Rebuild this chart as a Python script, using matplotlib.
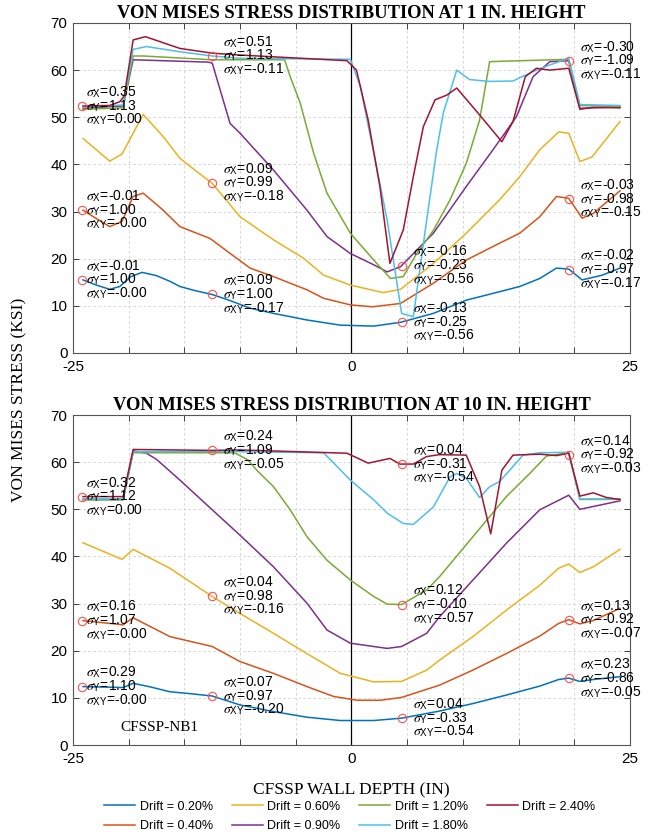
import matplotlib
matplotlib.use("Agg")
import matplotlib.pyplot as plt
import numpy as np

plt.rcParams['font.family'] = ['Liberation Sans', 'DejaVu Sans']
plt.rcParams['mathtext.fontset'] = 'stix'

# drift levels and MATLAB-style line colours
drifts = ['0.20', '0.40', '0.60', '0.90', '1.20', '1.80', '2.40']
colors = ['#0072BD', '#D95319', '#EDB120', '#7E2F8E', '#77AC30', '#4DBEEE', '#A2142F']

# ---- von Mises stress at 1 in. height (ksi) vs wall depth (in) ----
t020_x = [-24.1, -22.9, -21.7, -20.8, -19.8, -18.8, -17.5, -16.3, -15.4, -14.0, -12.5, -11.0, -9.1, -7.0, -4.0,
          -1.0, 2.0, 4.4, 7.35, 10.3, 13.3, 15.1, 16.9, 18.4, 19.5, 20.7, 22.5, 24.1]
t020_y = [15.5, 14.4, 13.5, 14.1, 16.2, 17.1, 16.4, 15.2, 14.1, 13.2, 12.4, 11.2, 9.5, 8.4, 7.0,
          5.9, 5.7, 6.5, 8.4, 11.2, 13.0, 14.1, 15.8, 18.0, 17.8, 15.5, 16.5, 18.0]
t040_x = [-24.1, -22.9, -21.7, -20.6, -19.6, -18.7, -17.0, -15.4, -14.0, -12.7, -11.0, -9.1, -7.0, -4.0, -2.5,
          -0.1, 1.9, 4.4, 7.35, 10.3, 13.3, 15.1, 16.9, 18.4, 19.5, 20.7, 21.7, 24.1]
t040_y = [30.3, 28.5, 26.8, 27.9, 33.2, 33.9, 30.5, 26.8, 25.5, 24.3, 21.3, 18.0, 16.2, 13.4, 11.6,
          10.2, 9.8, 10.5, 14.8, 19.7, 23.3, 25.4, 28.9, 33.2, 32.8, 28.6, 29.6, 34.4]
t060_x = [-24.1, -21.7, -20.6, -18.7, -16.9, -15.4, -13.9, -12.5, -10.0, -7.0, -4.3, -2.5, -0.1, 2.85, 4.4,
          7.35, 10.3, 13.3, 15.1, 16.9, 18.6, 19.5, 20.5, 21.6, 24.1]
t060_y = [45.5, 40.7, 42.2, 50.6, 45.9, 41.3, 38.5, 36.0, 28.9, 24.0, 20.1, 16.5, 14.4, 12.8, 13.5,
          19.0, 25.4, 32.5, 37.4, 43.1, 46.9, 46.6, 40.6, 41.6, 49.1]
t090_x = [-24.1, -20.5, -19.6, -12.9, -12.5, -10.9, -10.0, -7.0, -4.0, -2.2, -0.1, 2.0, 3.2, 4.4,
          7.35, 10.3, 12.7, 14.8, 16.3, 17.8, 19.5, 20.5, 24.1]
t090_y = [51.9, 52.4, 62.2, 61.7, 61.5, 48.7, 46.6, 38.8, 30.3, 24.7, 21.1, 18.7, 17.2, 18.3,
          25.4, 35.3, 43.1, 50.1, 58.6, 61.8, 62.0, 51.9, 52.2]
t120_x = [-24.1, -20.5, -19.6, -18.7, -12.5, -6.0, -5.5, -4.6, -3.4, -2.2, -0.1, 2.0, 3.5, 4.65, 5.85,
          7.35, 8.85, 10.3, 11.5, 12.4, 19.5, 20.5, 24.1]
t120_y = [51.7, 52.0, 63.0, 63.0, 62.2, 62.2, 58.6, 53.0, 42.4, 33.9, 25.4, 19.7, 15.8, 16.2, 21.1,
          26.0, 32.5, 40.2, 49.4, 61.8, 62.3, 52.5, 52.3]
t180_x = [-24.1, -20.5, -19.6, -18.4, -15.4, -12.5, -10.0, -0.1, 0.8, 2.0, 3.2, 4.5, 5.55, 6.75, 7.65,
          8.25, 9.45, 10.6, 12.4, 14.5, 16.3, 17.8, 19.5, 20.5, 24.1]
t180_y = [52.2, 52.6, 64.4, 65.0, 63.9, 63.0, 62.5, 62.3, 56.5, 42.4, 28.2, 8.4, 7.7, 28.2, 43.1,
          51.0, 60.0, 58.0, 57.6, 57.7, 59.7, 61.1, 62.5, 52.7, 52.5]
t240_x = [-24.1, -21.7, -20.8, -20.4, -19.6, -18.5, -15.4, -12.5, -10.0, -0.4, 0.45, 1.5, 2.55, 3.45, 4.65,
          5.55, 6.45, 7.5, 8.55, 9.45, 11.5, 13.5, 14.5, 15.6, 16.6, 17.8, 19.5, 20.5, 21.7, 24.1]
t240_y = [52.4, 52.5, 53.3, 54.5, 66.4, 67.1, 64.6, 63.6, 63.2, 62.0, 60.0, 49.4, 35.3, 19.0, 26.1,
          37.4, 48.0, 53.7, 54.7, 56.2, 50.5, 44.8, 49.1, 58.6, 60.4, 60.0, 60.4, 51.7, 52.1, 52.0]

# ---- von Mises stress at 10 in. height ----
b020_x = [-24.1, -20.5, -19.6, -18.0, -16.3, -14.5, -12.5, -10.0, -7.0, -4.0, -1.0, 2.0, 4.5, 7.9, 10.9,
          13.9, 16.9, 18.6, 19.5, 20.5, 21.7, 24.1]
b020_y = [12.4, 12.2, 13.1, 12.3, 11.3, 10.9, 10.4, 8.5, 7.1, 5.9, 5.2, 5.2, 5.7, 7.2, 8.8,
          10.6, 12.5, 13.9, 14.2, 13.5, 13.9, 14.5]
b040_x = [-24.1, -20.5, -19.6, -16.3, -12.5, -10.0, -7.0, -4.0, -1.6, 0.5, 2.6, 4.5, 7.9, 10.9, 13.9,
          16.9, 18.6, 19.5, 20.5, 21.7, 24.1]
b040_y = [26.4, 25.5, 27.0, 23.0, 20.9, 17.7, 15.2, 12.4, 10.3, 9.5, 9.5, 10.1, 12.7, 15.9, 19.4,
          23.1, 25.8, 26.6, 25.7, 26.4, 29.0]
b060_x = [-24.1, -20.6, -19.6, -16.3, -12.5, -10.0, -7.0, -4.0, -1.0, 2.0, 4.5, 6.75, 7.9, 10.9, 13.9,
          16.9, 18.6, 19.5, 20.5, 21.7, 24.1]
b060_y = [42.9, 39.4, 41.5, 37.5, 31.5, 27.9, 23.7, 19.4, 15.2, 13.4, 13.5, 15.9, 18.0, 23.0, 28.6,
          33.9, 37.5, 38.4, 36.6, 37.8, 41.5]
b090_x = [-24.1, -20.5, -19.6, -18.4, -17.5, -15.4, -12.5, -10.0, -7.0, -4.0, -2.2, -0.1, 3.2, 4.5, 6.75,
          7.9, 10.9, 13.9, 16.9, 19.5, 20.5, 21.7, 24.1]
b090_y = [52.1, 52.1, 62.4, 61.9, 60.6, 56.2, 49.9, 44.5, 37.8, 30.1, 24.4, 21.6, 20.5, 20.9, 23.7,
          27.2, 35.0, 42.8, 49.9, 53.0, 50.0, 50.6, 51.8]
b120_x = [-24.1, -20.5, -19.6, -12.5, -10.5, -9.3, -8.5, -7.0, -5.5, -4.0, -2.2, -0.1, 2.0, 3.2, 4.5,
          6.75, 7.9, 10.9, 13.9, 16.0, 17.5, 19.5, 20.5, 24.1]
b120_y = [52.0, 52.0, 62.0, 62.0, 62.0, 60.5, 58.3, 54.8, 49.9, 44.2, 39.2, 35.0, 31.5, 29.9, 29.8,
          32.9, 35.7, 44.2, 52.7, 57.6, 61.3, 62.0, 52.1, 52.1]
b180_x = [-24.1, -20.5, -19.6, -12.5, -2.5, -0.1, 2.0, 3.2, 4.65, 5.55, 7.35, 8.85, 9.45, 10.3, 11.5,
          12.4, 13.3, 15.4, 16.9, 19.5, 20.5, 24.1]
b180_y = [52.2, 52.2, 62.2, 62.3, 62.0, 56.2, 52.0, 49.2, 47.0, 46.8, 50.5, 56.9, 57.6, 56.6, 52.5,
          54.8, 55.9, 61.5, 62.0, 62.1, 52.2, 52.2]
b240_x = [-24.1, -20.5, -19.6, -12.5, -10.0, -0.4, 1.5, 3.45, 4.35, 5.55, 6.75, 7.9, 10.3, 11.5, 12.5,
          13.5, 14.5, 16.9, 18.4, 19.5, 20.5, 21.7, 22.9, 24.1]
b240_y = [52.7, 52.7, 62.7, 62.5, 62.6, 61.9, 59.8, 60.8, 59.6, 59.6, 61.2, 61.6, 61.5, 54.8, 44.8,
          58.3, 61.5, 61.7, 61.4, 61.9, 52.8, 53.5, 52.5, 52.1]

top_x = [t020_x, t040_x, t060_x, t090_x, t120_x, t180_x, t240_x]
top_y = [t020_y, t040_y, t060_y, t090_y, t120_y, t180_y, t240_y]
bot_x = [b020_x, b040_x, b060_x, b090_x, b120_x, b180_x, b240_x]
bot_y = [b020_y, b040_y, b060_y, b090_y, b120_y, b180_y, b240_y]

# data tips: depth, curve index, sigma_x, sigma_y, sigma_xy
top_tip_x = [-24.15, -24.15, -24.15, -12.55, -12.55, -12.55, 4.5, 4.5, 19.55, 19.55, 19.55]
top_tip_curve = [6, 1, 0, 5, 2, 0, 3, 0, 5, 1, 0]
top_sx = ['0.35', '-0.01', '-0.01', '0.51', '0.09', '0.09', '-0.16', '-0.13', '-0.30', '-0.03', '-0.02']
top_sy = ['1.13', '1.00', '1.00', '1.13', '0.99', '1.00', '-0.23', '-0.25', '-1.09', '-0.98', '-0.97']
top_sxy = ['0.00', '-0.00', '-0.00', '-0.11', '-0.18', '-0.17', '-0.56', '-0.56', '-0.11', '-0.15', '-0.17']

bot_tip_x = [-24.15, -24.15, -24.15, -12.55, -12.55, -12.55, 4.5, 4.5, 4.5, 19.55, 19.55, 19.55]
bot_tip_curve = [6, 1, 0, 6, 2, 0, 6, 4, 0, 5, 1, 0]
bot_sx = ['0.32', '0.16', '0.29', '0.24', '0.04', '0.07', '0.04', '0.12', '0.04', '0.14', '0.13', '0.23']
bot_sy = ['1.12', '1.07', '1.10', '1.09', '0.98', '0.97', '-0.31', '-0.10', '-0.33', '-0.92', '-0.92', '-0.86']
bot_sxy = ['0.00', '-0.00', '-0.00', '-0.05', '-0.16', '-0.20', '-0.54', '-0.57', '-0.54', '-0.03', '-0.07', '-0.05']

fig = plt.figure(figsize=(6.61, 8.39), dpi=100)
ax1 = fig.add_axes([0.1104, 0.5793, 0.8427, 0.3933])
ax2 = fig.add_axes([0.1104, 0.1120, 0.8427, 0.3933])


def draw_panel(ax, xs, ys, tip_x, tip_curve, sx, sy, sxy, title):
    ax.axvline(0, color='black', lw=0.9, zorder=1)
    for i in range(len(drifts)):
        ax.plot(xs[i], ys[i], color=colors[i], lw=1.1, label='Drift = ' + drifts[i] + '%', zorder=2)
    for k in range(len(tip_x)):
        c = tip_curve[k]
        yk = np.interp(tip_x[k], xs[c], ys[c])
        ax.plot(tip_x[k], yk, 'o', mfc='none', mec='#ff5050', ms=6, mew=0.8, zorder=3)
        dx = 0.35 if tip_x[k] < -20 else 1.0
        tx = tip_x[k] + dx
        ax.text(tx, yk + 2.1, r'$\sigma_{\mathregular{X}}$=' + sx[k], fontsize=10, va='baseline', zorder=4)
        ax.text(tx, yk - 0.8, r'$\sigma_{\mathregular{Y}}$=' + sy[k], fontsize=10, va='baseline', zorder=4)
        ax.text(tx, yk - 3.7, r'$\sigma_{\mathregular{XY}}$=' + sxy[k], fontsize=10, va='baseline', zorder=4)
    ax.set_xlim(-25, 25)
    ax.set_ylim(0, 70)
    ax.set_xticks(np.arange(-25, 26, 5))
    ax.set_xticklabels(['-25', '', '', '', '', '0', '', '', '', '', '25'])
    ax.set_yticks(np.arange(0, 71, 10))
    ax.tick_params(direction='in', top=True, right=True, labelsize=11, length=4,
                   width=0.7, color='#404040')
    ax.tick_params(axis='x', pad=5)
    ax.tick_params(axis='y', pad=4)
    ax.grid(True, color='#d0d0d0', lw=0.6, linestyle=(0, (3, 3)))
    ax.set_axisbelow(True)
    for s in ax.spines.values():
        s.set_color('#555555')
        s.set_linewidth(0.8)
    ax.set_title(title, fontsize=13.3, fontweight='bold', family='Liberation Serif', pad=3.5)


draw_panel(ax1, top_x, top_y, top_tip_x, top_tip_curve, top_sx, top_sy, top_sxy,
           'VON MISES STRESS DISTRIBUTION AT 1 IN. HEIGHT')
draw_panel(ax2, bot_x, bot_y, bot_tip_x, bot_tip_curve, bot_sx, bot_sy, bot_sxy,
           'VON MISES STRESS DISTRIBUTION AT 10 IN. HEIGHT')

ax2.text(-17.2, 3.8, 'CFSSP-NB1', family='Liberation Serif', fontsize=11, ha='center', va='center')

fig.text(0.03, 0.523, 'VON MISES STRESS (KSI)', rotation=90, family='Liberation Serif',
         fontsize=12.5, ha='center', va='center')
fig.text(0.532, 0.058, 'CFSSP WALL DEPTH (IN)', family='Liberation Serif',
         fontsize=12.5, ha='center', va='center')

handles, labels = ax2.get_legend_handles_labels()
fig.legend(handles, labels, loc='center', bbox_to_anchor=(0.529, 0.027), ncol=4, frameon=False,
           fontsize=9, handlelength=2.5, handletextpad=0.35, columnspacing=1.5, labelspacing=0.6)

fig.savefig('out.png', dpi=100)
